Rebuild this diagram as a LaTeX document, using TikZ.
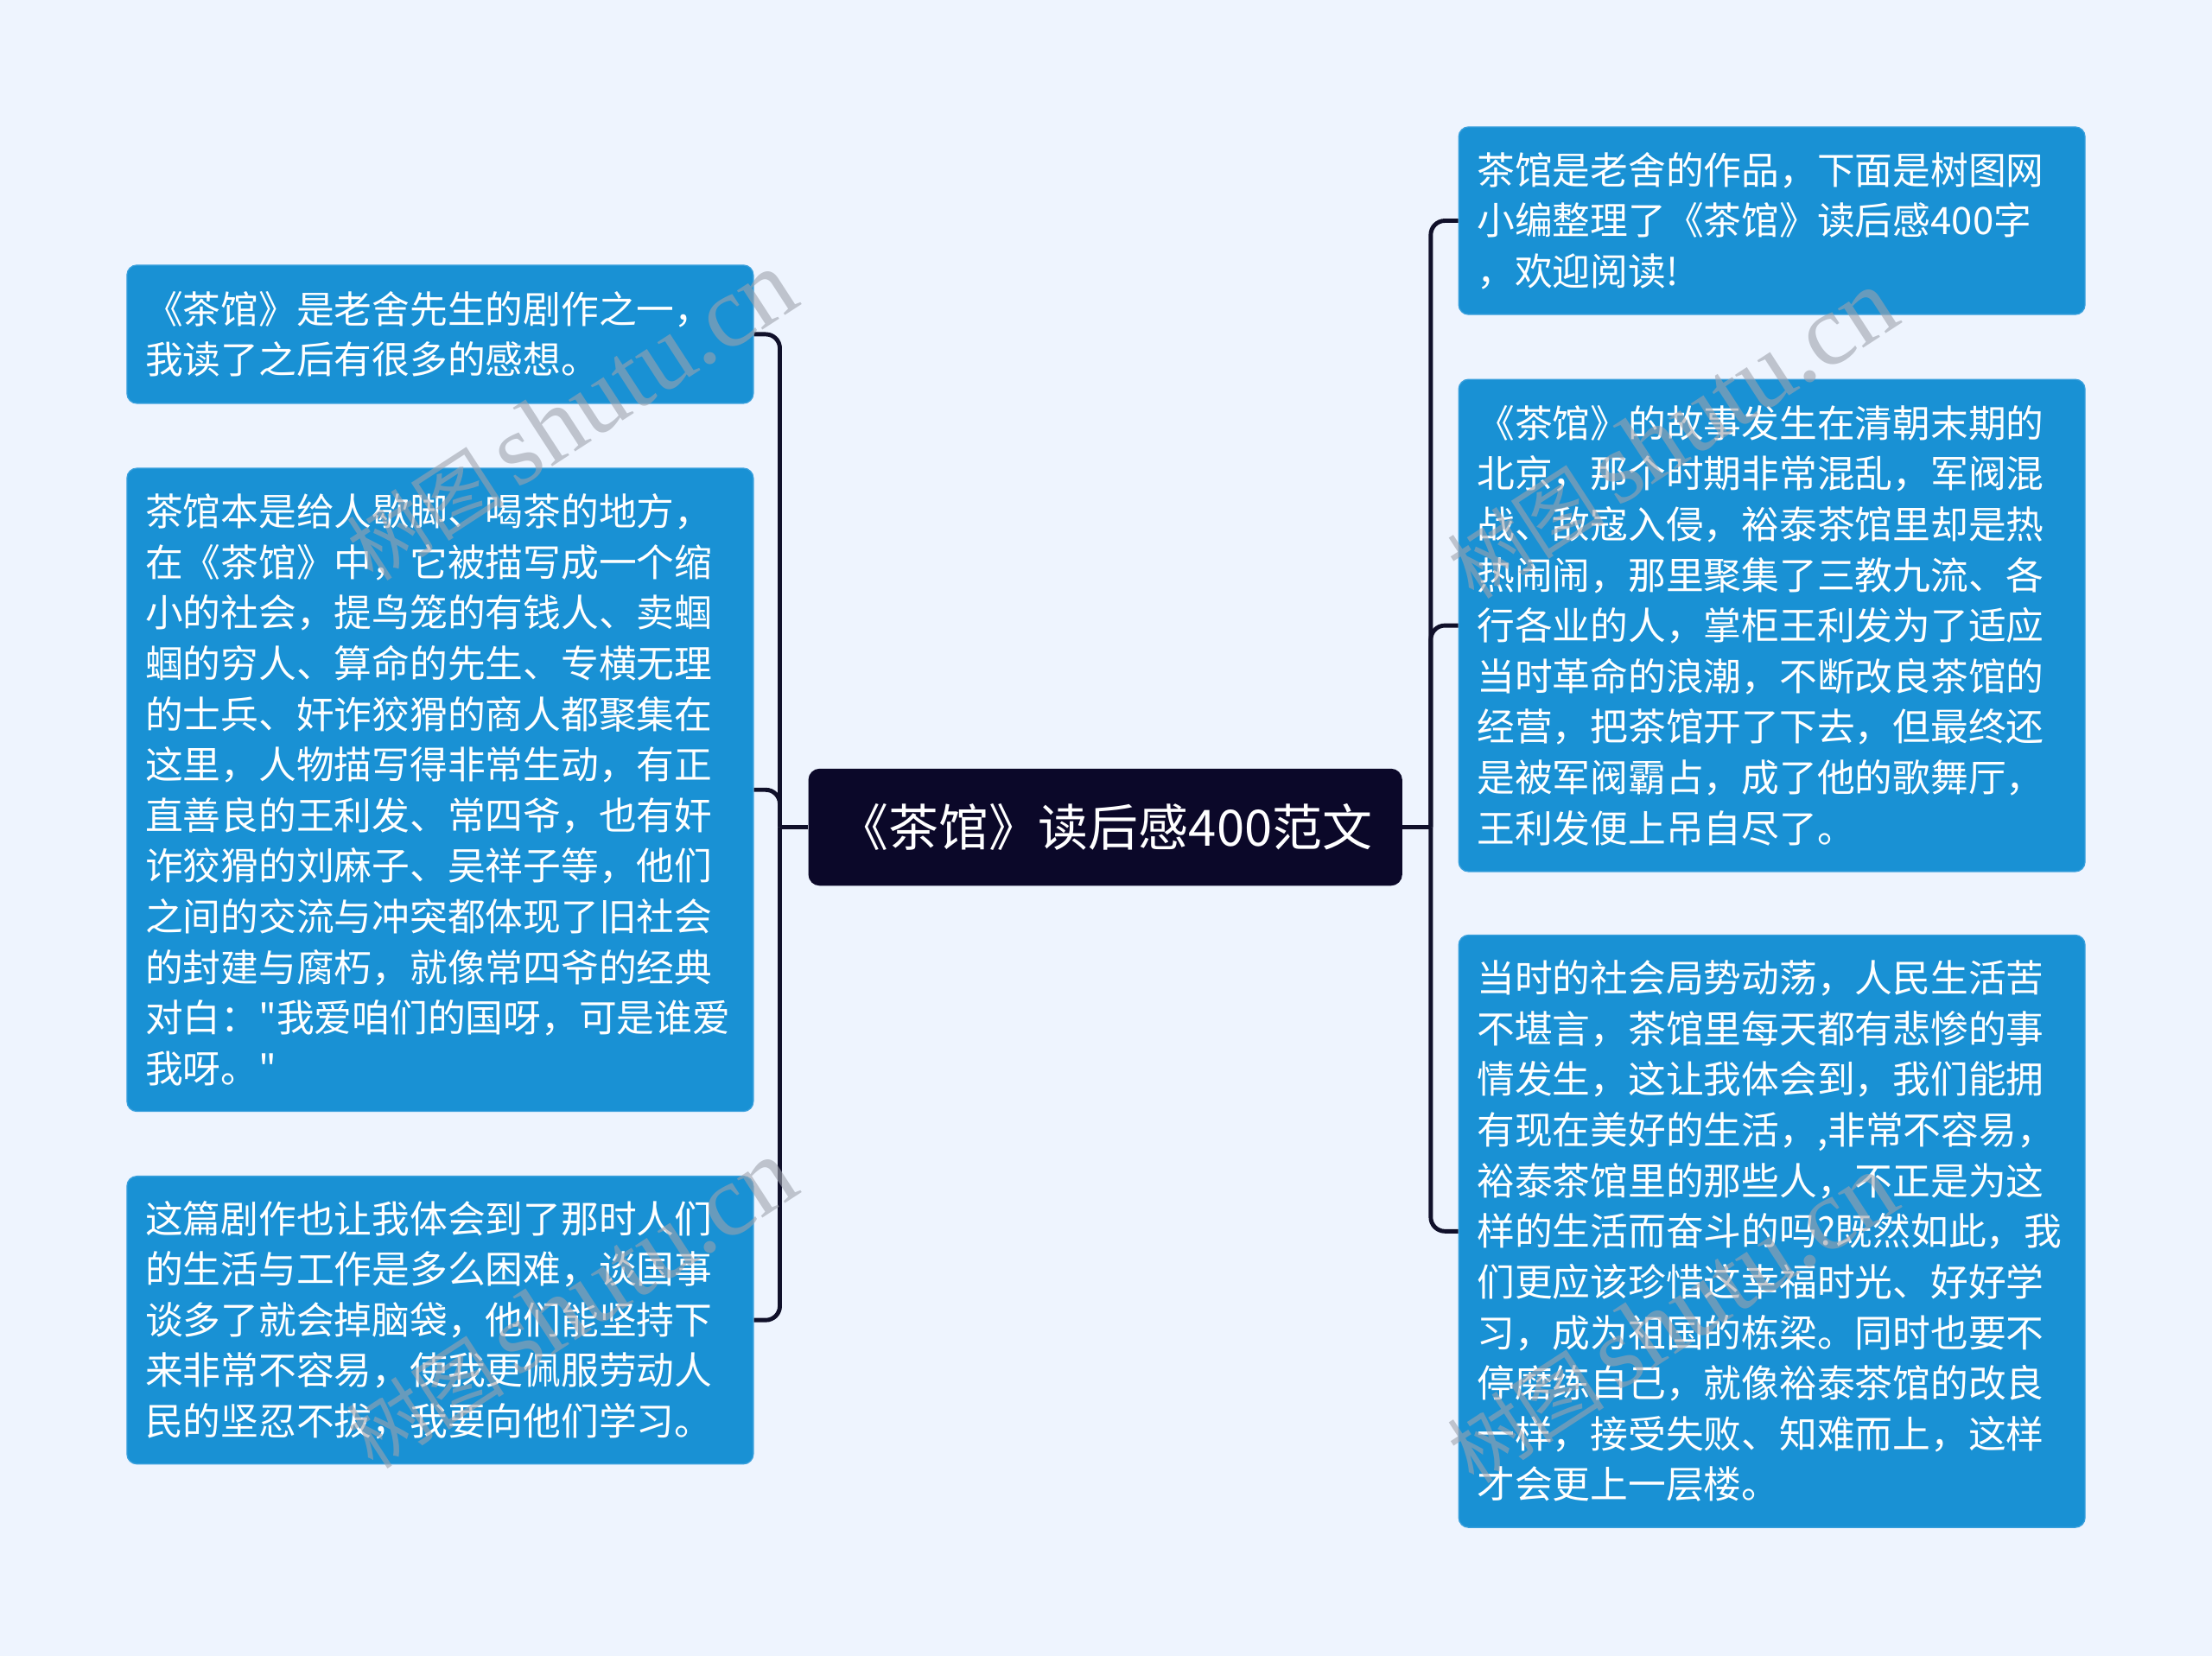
\documentclass[tikz,border=0pt]{standalone}
\usepackage{fontspec}
\setmainfont{Noto Sans CJK SC}
\newfontfamily\cjkf{Noto Sans CJK SC}
\newfontfamily\wmserif{Liberation Serif}
\usetikzlibrary{calc}
\definecolor{bg}{HTML}{EEF4FE}
\definecolor{leafblue}{HTML}{1991D4}
\definecolor{leafedge}{HTML}{3AA0DD}
\definecolor{rootnavy}{HTML}{0B0829}
\definecolor{connc}{HTML}{10102A}
\definecolor{wmgray}{HTML}{9EA3AD}
\begin{document}
\begin{tikzpicture}[x=1pt,y=-1pt,
  leaf/.style={rectangle, rounded corners=7pt, fill=leafblue, draw=leafedge, line width=0.8pt,
    text=white, font=\cjkf\fontsize{26.8pt}{35.9pt}\selectfont, align=left,
    inner xsep=13pt, inner ysep=0pt, text width=418pt, minimum width=444pt},
  rootbox/.style={rectangle, rounded corners=8pt, fill=rootnavy, draw=none, text=white,
    font=\cjkf\fontsize{35.5pt}{40pt}\selectfont, minimum width=421pt, minimum height=83pt, inner sep=0pt},
  conn/.style={draw=connc, line width=3pt, rounded corners=10pt},
  wm/.style={text=wmgray, opacity=0.6, rotate=33, inner sep=0pt}
]
\useasboundingbox[fill=bg] (0,0) rectangle (1568,1174);

\node[rootbox] (c) at (783.5,586.5) {《茶馆》读后感400范文};

\node[leaf, minimum height=98pt] (L1) at (312,237) {《茶馆》是老舍先生的剧作之一，\\我读了之后有很多的感想。};

\node[leaf, minimum height=456pt] (L2) at (312,560) {茶馆本是给人歇脚、喝茶的地方，\\在《茶馆》中，它被描写成一个缩\\小的社会，提鸟笼的有钱人、卖蝈\\蝈的穷人、算命的先生、专横无理\\的士兵、奸诈狡猾的商人都聚集在\\这里，人物描写得非常生动，有正\\直善良的王利发、常四爷，也有奸\\诈狡猾的刘麻子、吴祥子等，他们\\之间的交流与冲突都体现了旧社会\\的封建与腐朽，就像常四爷的经典\\对白："我爱咱们的国呀，可是谁爱\\我呀。"};

\node[leaf, minimum height=204pt] (L3) at (312,936) {这篇剧作也让我体会到了那时人们\\的生活与工作是多么困难，谈国事\\谈多了就会掉脑袋，他们能坚持下\\来非常不容易，使我更佩服劳动人\\民的坚忍不拔，我要向他们学习。};

\node[leaf, minimum height=133pt] (R1) at (1256,156.5) {茶馆是老舍的作品，下面是树图网\\小编整理了《茶馆》读后感400字\\，欢迎阅读!};

\node[leaf, minimum height=349pt] (R2) at (1256,443.5) {《茶馆》的故事发生在清朝末期的\\北京，那个时期非常混乱，军阀混\\战、敌寇入侵，裕泰茶馆里却是热\\热闹闹，那里聚集了三教九流、各\\行各业的人，掌柜王利发为了适应\\当时革命的浪潮，不断改良茶馆的\\经营，把茶馆开了下去，但最终还\\是被军阀霸占，成了他的歌舞厅，\\王利发便上吊自尽了。};

\node[leaf, minimum height=420pt] (R3) at (1256,873) {当时的社会局势动荡，人民生活苦\\不堪言，茶馆里每天都有悲惨的事\\情发生，这让我体会到，我们能拥\\有现在美好的生活，,非常不容易，\\裕泰茶馆里的那些人，不正是为这\\样的生活而奋斗的吗?既然如此，我\\们更应该珍惜这幸福时光、好好学\\习，成为祖国的栋梁。同时也要不\\停磨练自己，就像裕泰茶馆的改良\\一样，接受失败、知难而上，这样\\才会更上一层楼。};

\coordinate (jl) at ($(c.west)+(-20,0)$);
\coordinate (jr) at ($(c.east)+(20,0)$);
\draw[conn] (c.west) -- (jl);
\draw[conn] (c.east) -- (jr);
\draw[conn] (jl) |- (L1.east);
\draw[conn] (jl) |- (L2.east);
\draw[conn] (jl) |- (L3.east);
\draw[conn] (jr) |- (R1.west);
\draw[conn] (jr) |- (R2.west);
\draw[conn] (jr) |- (R3.west);

\node[wm] (w1) at (405,295) {\fontsize{56pt}{60pt}\selectfont 树图\,{\wmserif\fontsize{72pt}{76pt}\selectfont shutu.cn}};
\node[wm] (w2) at (1185,308) {\fontsize{56pt}{60pt}\selectfont 树图\,{\wmserif\fontsize{72pt}{76pt}\selectfont shutu.cn}};
\node[wm] (w3) at (405,925) {\fontsize{56pt}{60pt}\selectfont 树图\,{\wmserif\fontsize{72pt}{76pt}\selectfont shutu.cn}};
\node[wm] (w4) at (1185,935) {\fontsize{56pt}{60pt}\selectfont 树图\,{\wmserif\fontsize{72pt}{76pt}\selectfont shutu.cn}};
\end{tikzpicture}
\end{document}
